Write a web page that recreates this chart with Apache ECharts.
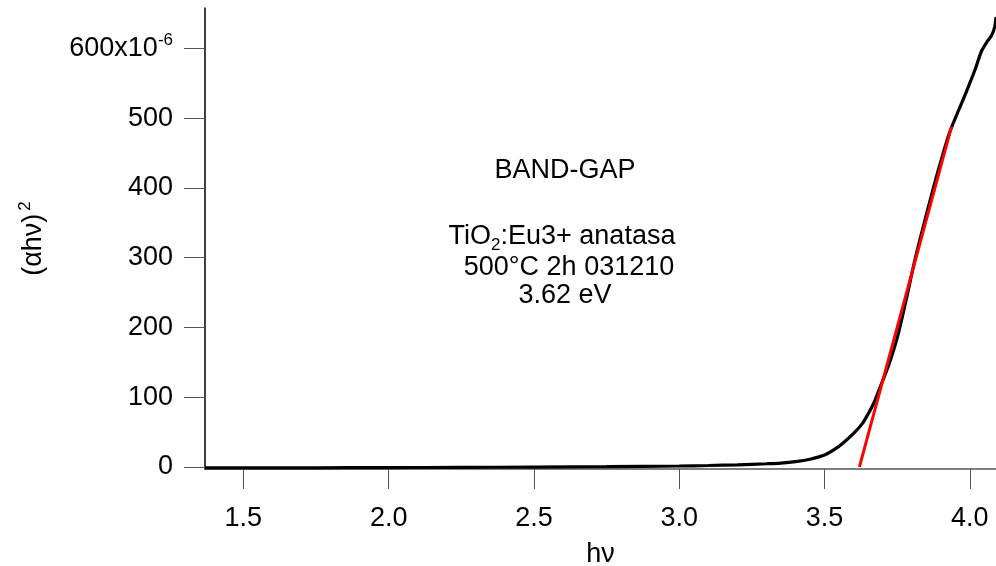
<!DOCTYPE html>
<html>
<head>
<meta charset="utf-8">
<script src="https://cdn.jsdelivr.net/npm/echarts@6/dist/echarts.min.js"></script>
<style>
  html, body { margin: 0; padding: 0; background: #fff; }
  #chart { width: 996px; height: 566px; }
</style>
</head>
<body>
<div id="chart"></div>
<script>
// Photon energy (eV) and (alpha h nu)^2 absorption curve
const energy = [1.368, 1.5, 1.75, 2.0, 2.25, 2.5, 2.75, 3.0, 3.1, 3.2, 3.3, 3.35, 3.4, 3.45, 3.5, 3.53,
  3.56, 3.6, 3.63, 3.65, 3.67, 3.69, 3.72, 3.75, 3.78, 3.81, 3.84, 3.87, 3.9, 3.93, 3.96, 3.99,
  4.02, 4.04, 4.06, 4.075, 4.085, 4.09];
const absorb = [-1.5, -1.5, -1.3, -1.0, -0.7, -0.3, 0.3, 1.3, 2.0, 3.0, 4.5, 5.5, 7.5, 11, 17, 24,
  33, 48, 62, 76, 92, 113, 145, 185, 238, 295, 345, 393, 438, 479, 510, 540,
  572, 596, 610, 619, 630, 645];

// Linear fit of the absorption edge (band-gap extrapolation)
const fitX = [3.62, 3.937];
const fitY = [0, 488];

// Axis ticks
const xTicks = [1.5, 2.0, 2.5, 3.0, 3.5, 4.0];
const yTicks = [0, 100, 200, 300, 400, 500, 600];

const FONT = '"Liberation Sans", Arial, sans-serif';
const FS = 27;
const SS = 17;

const chart = echarts.init(document.getElementById('chart'), null, { renderer: 'canvas' });

chart.setOption({
  backgroundColor: '#ffffff',
  animation: false,
  grid: { left: 205, right: 0, top: 8, bottom: 97, containLabel: false, outerBoundsMode: 'none' },
  xAxis: {
    type: 'value',
    min: 1.368,
    max: 4.09,
    name: 'hν',
    nameLocation: 'middle',
    nameGap: 72,
    nameTextStyle: { fontFamily: FONT, fontSize: FS, color: '#000' },
    axisLine: { show: true, onZero: false, lineStyle: { color: '#555', width: 1.5 } },
    axisTick: { show: true, inside: false, length: 20, customValues: xTicks, lineStyle: { color: '#555', width: 1 } },
    axisLabel: {
      customValues: xTicks,
      margin: 36,
      fontFamily: FONT, fontSize: FS, color: '#000',
      formatter: v => v.toFixed(1)
    },
    splitLine: { show: false }
  },
  yAxis: {
    type: 'value',
    min: -3,
    max: 658,
    name: '{b|(αhν)}{s|2}',
    nameLocation: 'middle',
    nameGap: 154,
    nameRotate: 90,
    nameTextStyle: {
      fontFamily: FONT, fontSize: FS, color: '#000',
      rich: {
        b: { fontFamily: FONT, fontSize: FS, color: '#000', lineHeight: 34 },
        s: { fontFamily: FONT, fontSize: SS, color: '#000', lineHeight: 34, verticalAlign: 'top', padding: [0, 0, 16, 3] }
      }
    },
    axisLine: { show: true, onZero: false, lineStyle: { color: '#000', width: 1.5 } },
    axisTick: { show: true, inside: false, length: 21, customValues: yTicks, lineStyle: { color: '#555', width: 1 } },
    axisLabel: {
      customValues: yTicks,
      margin: 32,
      fontFamily: FONT, fontSize: FS, color: '#000',
      formatter: v => (v === 600 ? '{n|600x10}{e|-6}' : String(v)),
      rich: {
        n: { fontFamily: FONT, fontSize: FS, color: '#000', lineHeight: 34 },
        e: { fontFamily: FONT, fontSize: SS, color: '#000', lineHeight: 34, verticalAlign: 'top', padding: [0, 0, 16, 0] }
      }
    },
    splitLine: { show: false }
  },
  series: [
    {
      name: 'spectrum',
      type: 'line',
      data: energy.map((x, i) => [x, absorb[i]]),
      showSymbol: false,
      smooth: 0.3,
      lineStyle: { color: '#000', width: 3.2 },
      clip: true,
      z: 2
    },
    {
      name: 'fit',
      type: 'line',
      data: fitX.map((x, i) => [x, fitY[i]]),
      showSymbol: false,
      lineStyle: { color: '#ff0000', width: 3 },
      z: 3
    }
  ],
  graphic: [
    {
      type: 'text',
      style: {
        text: 'BAND-GAP', x: 565, y: 171, align: 'center', verticalAlign: 'middle',
        font: FS + 'px ' + FONT, fill: '#000'
      }
    },
    {
      type: 'text',
      style: {
        text: '{t|TiO}{sub|2}{t|:Eu3+ anatasa}', x: 562, y: 237, align: 'center', verticalAlign: 'middle',
        rich: {
          t: { fontFamily: FONT, fontSize: FS, fill: '#000', lineHeight: 34 },
          sub: { fontFamily: FONT, fontSize: SS, fill: '#000', lineHeight: 34, verticalAlign: 'bottom', padding: [12, 0, 0, 0] }
        }
      }
    },
    {
      type: 'text',
      style: {
        text: '500°C 2h 031210', x: 569, y: 268, align: 'center', verticalAlign: 'middle',
        font: FS + 'px ' + FONT, fill: '#000'
      }
    },
    {
      type: 'text',
      style: {
        text: '3.62 eV', x: 565, y: 296, align: 'center', verticalAlign: 'middle',
        font: FS + 'px ' + FONT, fill: '#000'
      }
    }
  ]
});
</script>
</body>
</html>
